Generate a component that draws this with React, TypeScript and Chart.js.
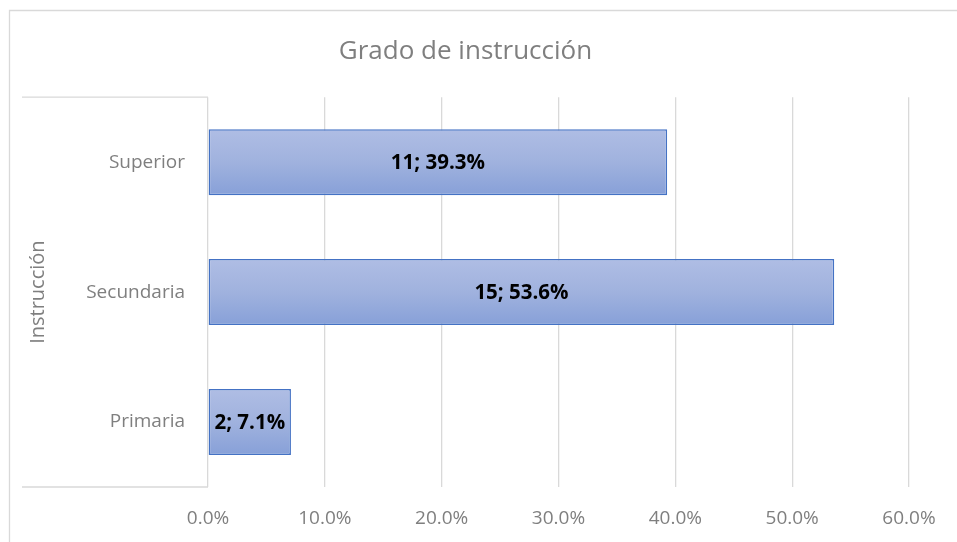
import React, { useEffect, useRef } from "react";
import { Chart, registerables } from "chart.js";

Chart.register(...registerables);

const categories: string[] = ["Superior", "Secundaria", "Primaria"];
const counts: number[] = [11, 15, 2];
const percents: number[] = [39.3, 53.6, 7.1];
const xTicksMax = 60;
const xTicksStep = 10;

const FONT = "'Open Sans', 'DejaVu Sans', sans-serif";
const GRAY = "#7f7f7f";
const GRID = "#d9d9d9";
const CAT_PCT = 0.508;

const decorPlugin = {
  id: "decor",
  beforeDraw(chart: any) {
    const { ctx, chartArea } = chart;
    ctx.save();
    ctx.strokeStyle = GRID;
    ctx.lineWidth = 1.3;
    ctx.beginPath();
    ctx.moveTo(9.5, chart.height + 5);
    ctx.lineTo(9.5, 10.5);
    ctx.lineTo(chart.width + 5, 10.5);
    ctx.stroke();
    ctx.beginPath();
    ctx.moveTo(22, chartArea.top);
    ctx.lineTo(chartArea.left, chartArea.top);
    ctx.moveTo(22, chartArea.bottom);
    ctx.lineTo(chartArea.left, chartArea.bottom);
    ctx.stroke();
    ctx.restore();
  },
  afterDatasetsDraw(chart: any) {
    const { ctx } = chart;
    const meta = chart.getDatasetMeta(0);
    ctx.save();
    ctx.fillStyle = "#000000";
    ctx.font = `bold 20.5px ${FONT}`;
    ctx.textAlign = "center";
    ctx.textBaseline = "middle";
    meta.data.forEach((el: any, i: number) => {
      const cx = (el.x + el.base) / 2;
      const txt = `${counts[i]}; ${percents[i].toFixed(1)}%`;
      ctx.fillText(txt, cx, el.y + 1);
    });
    ctx.restore();
  },
};

function barGradient(c: any) {
  const chart = c.chart;
  const y = chart.scales && chart.scales.y;
  if (!y || !chart.chartArea || c.dataIndex === undefined) return "#a0b2de";
  const cy = y.getPixelForValue(c.dataIndex);
  const h = (y.height / categories.length) * CAT_PCT;
  const g = chart.ctx.createLinearGradient(0, cy - h / 2, 0, cy + h / 2);
  g.addColorStop(0, "#afbde4");
  g.addColorStop(0.5, "#a0b2de");
  g.addColorStop(1, "#87a0d8");
  return g;
}

export default function App() {
  const ref = useRef<HTMLCanvasElement | null>(null);
  useEffect(() => {
    if (!ref.current) return;
    const chart = new Chart(ref.current, {
      type: "bar",
      data: {
        labels: categories,
        datasets: [
          {
            data: percents,
            backgroundColor: barGradient,
            borderColor: "#4472c4",
            borderWidth: 1.5,
            borderSkipped: false,
            barPercentage: 1,
            categoryPercentage: CAT_PCT,
          },
        ],
      },
      options: {
        indexAxis: "y",
        animation: false,
        responsive: true,
        maintainAspectRatio: false,
        layout: { padding: { left: 22, right: 48, top: 0, bottom: 0 } },
        plugins: {
          legend: { display: false },
          tooltip: { enabled: false },
          title: {
            display: true,
            text: "Grado de instrucción",
            color: GRAY,
            font: { family: FONT, size: 26, weight: "normal" },
            padding: { top: 36, bottom: 30 },
          },
        },
        scales: {
          x: {
            min: 0,
            max: xTicksMax,
            ticks: {
              stepSize: xTicksStep,
              color: GRAY,
              font: { family: FONT, size: 19 },
              padding: 20,
              callback: (v: any) => Number(v).toFixed(1) + "%",
            },
            grid: { color: GRID, lineWidth: 1.3, drawTicks: false },
            border: { display: false },
            afterFit: (s: any) => {
              s.height = 55;
            },
          },
          y: {
            ticks: {
              color: GRAY,
              font: { family: FONT, size: 19 },
              padding: 23,
            },
            grid: { display: false, drawTicks: false },
            border: { display: false },
            title: {
              display: true,
              text: "Instrucción",
              color: GRAY,
              font: { family: FONT, size: 20, weight: "normal" },
              padding: { top: 4, bottom: 4 },
            },
            afterFit: (s: any) => {
              s.width = 208 - 22;
            },
          },
        },
      },
      plugins: [decorPlugin],
    });
    return () => chart.destroy();
  }, []);
  return (
    <div style={{ position: "absolute", left: 0, top: 0, width: 957, height: 542, background: "#fff" }}>
      <canvas ref={ref} />
    </div>
  );
}
